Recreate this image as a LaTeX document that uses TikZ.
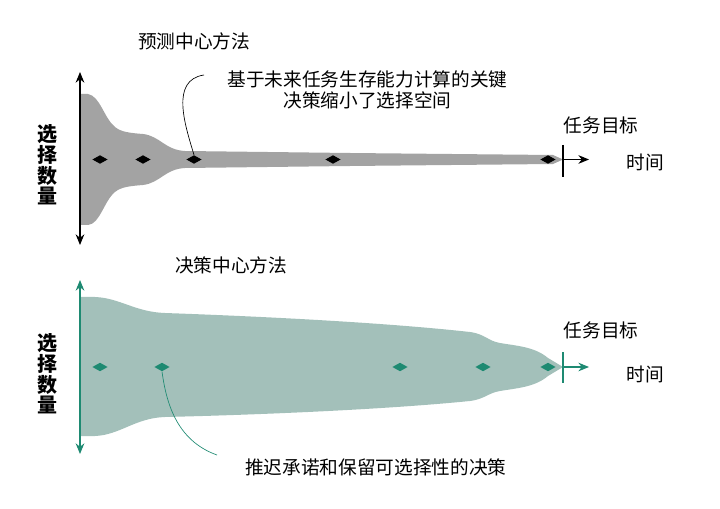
\documentclass[tikz,border=0pt]{standalone}
\usepackage{fontspec}
\setmainfont{Noto Sans CJK SC}
\usetikzlibrary{arrows.meta,shapes.geometric}
\definecolor{grayfill}{HTML}{A3A3A3}
\definecolor{tealfill}{HTML}{A3C0BA}
\definecolor{tealdark}{HTML}{1E8A72}
\tikzset{
  lbl/.style={inner sep=0pt, font=\fontsize{14pt}{16pt}\selectfont},
  axislbl/.style={inner sep=0pt, align=center, font=\fontsize{15pt}{15.5pt}\selectfont\bfseries},
  dia/.style={diamond, minimum width=11.5pt, minimum height=6.5pt, inner sep=0pt, draw=none},
  axarrow/.style={line width=0.9pt, {Stealth[length=8pt,width=6.5pt]}-{Stealth[length=8pt,width=6.5pt]}},
  tarrow/.style={line width=0.9pt, -{Stealth[length=8pt,width=6.5pt]}},
  tick/.style={line width=0.9pt},
  leader/.style={line width=0.5pt}
}
\begin{document}
\begin{tikzpicture}[x=0.75pt,y=-0.75pt]
\useasboundingbox (0,0) rectangle (720,509);

% ===== top panel =====
\fill[grayfill] (80,94) -- (88,94) .. controls (100,96) and (104,118) .. (115,127)
  .. controls (121,132) and (130,133) .. (143,134)
  .. controls (160,136) and (165,150) .. (185,151)
  -- (350,153) -- (553,155) -- (563,159.5) -- (553,164) -- (350,166) -- (185,168)
  .. controls (165,169) and (160,183) .. (143,185)
  .. controls (130,186) and (121,187) .. (115,192)
  .. controls (104,201) and (100,224) .. (88,225) -- (80,225) -- cycle;

\coordinate (ta1) at (80,72);
\coordinate (ta2) at (80,245);
\draw[axarrow, black] (ta1) -- (ta2);

\node[dia, fill=black] (t1) at (100,159.5) {};
\node[dia, fill=black] (t2) at (143,159.5) {};
\node[dia, fill=black] (t3) at (194,159.5) {};
\node[dia, fill=black] (t4) at (333,159.5) {};
\node[dia, fill=black] (t5) at (548,159.5) {};

\coordinate (ttick1) at (563,145);
\coordinate (ttick2) at (563,177);
\draw[tick] (ttick1) -- (ttick2);
\coordinate (tarr0) at (563,159.5);
\coordinate (tarr1) at (589,159.5);
\draw[tarrow] (tarr0) -- (tarr1);

\node[lbl] (ttitle) at (194,41) {预测中心方法};
\node[lbl] (tgoal) at (601,125) {任务目标};
\node[lbl] (ttime) at (645,162) {时间};
\node[lbl, align=center] (tnote) at (367.5,90) {基于未来任务生存能力计算的关键\\决策缩小了选择空间};
\node[axislbl] (tax) at (47,165) {选\\择\\数\\量};

\coordinate (tlead) at (204,75);
\draw[leader] (t3.north) .. controls (185,125) and (170,80) .. (tlead);

% ===== bottom panel =====
\fill[tealfill] (80,297) -- (95,297) .. controls (120,298) and (135,312) .. (165,313)
  .. controls (250,316) and (380,322) .. (470,332)
  .. controls (485,334) and (488,341) .. (500,343)
  .. controls (518,346) and (535,347) .. (548,358) -- (563,367)
  -- (548,376) .. controls (535,387) and (518,388) .. (500,391)
  .. controls (488,393) and (485,399) .. (470,401)
  .. controls (380,410) and (250,415) .. (165,417)
  .. controls (135,418) and (120,435) .. (95,436) -- (80,436) -- cycle;

\coordinate (ba1) at (80,280);
\coordinate (ba2) at (80,454);
\draw[axarrow, tealdark] (ba1) -- (ba2);

\node[dia, fill=tealdark] (b1) at (100,367) {};
\node[dia, fill=tealdark] (b2) at (162,367) {};
\node[dia, fill=tealdark] (b3) at (400,367) {};
\node[dia, fill=tealdark] (b4) at (483,367) {};
\node[dia, fill=tealdark] (b5) at (548,367) {};

\coordinate (btick1) at (563,352);
\coordinate (btick2) at (563,383);
\draw[tick, tealdark] (btick1) -- (btick2);
\coordinate (barr0) at (563,367);
\coordinate (barr1) at (589,367);
\draw[tarrow, tealdark] (barr0) -- (barr1);

\node[lbl] (btitle) at (231,265) {决策中心方法};
\node[lbl] (bgoal) at (601,330) {任务目标};
\node[lbl] (btime) at (645,374) {时间};
\node[lbl, anchor=west] (bnote) at (245,467) {推迟承诺和保留可选择性的决策};
\node[axislbl] (bax) at (47,374) {选\\择\\数\\量};

\coordinate (blead) at (217,455);
\draw[leader, tealdark] (b2.south) .. controls (166,400) and (175,440) .. (blead);
\end{tikzpicture}
\end{document}
